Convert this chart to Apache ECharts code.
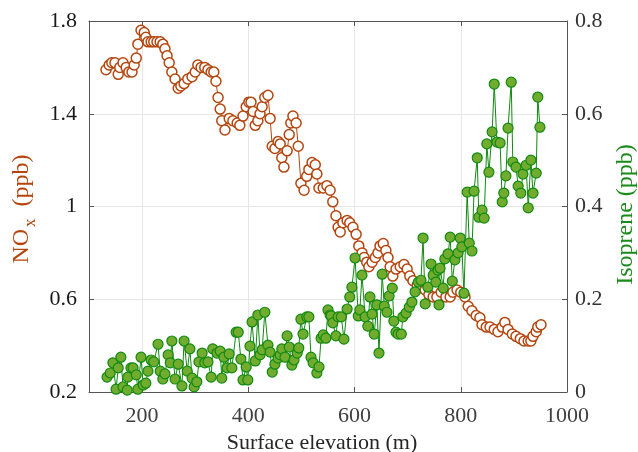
<!DOCTYPE html>
<html>
<head>
<meta charset="utf-8">
<script src="https://cdn.jsdelivr.net/npm/echarts@6/dist/echarts.min.js"></script>
<style>
  html, body { margin: 0; padding: 0; background: #fff; }
  #chart { width: 638px; height: 452px; }
</style>
</head>
<body>
<div id="chart"></div>
<script>
// NOx trace (surface elevation in m, mixing ratio in ppb)
const noxElev = [132,138,143,149,155,158,164,170,175,181,185,189,192,198,204,207,211,217,222,228,
  234,239,243,247,251,256,262,268,273,279,286,294,300,305,311,318,324,330,335,339,
  343,347,350,356,364,371,379,384,390,396,401,405,409,413,418,422,426,431,437,441,
  445,450,456,460,463,467,473,477,480,484,490,494,499,505,510,514,520,526,529,533,
  541,548,554,559,565,569,573,578,586,591,597,603,608,614,618,623,627,633,639,644,
  648,654,659,663,667,672,678,686,693,699,704,710,718,725,733,740,748,755,763,772,
  780,785,793,800,808,814,821,829,836,840,848,855,863,870,878,883,889,897,904,912,
  919,927,932,936,942,945,951];
const noxVal = [1.59,1.61,1.62,1.62,1.57,1.60,1.62,1.60,1.58,1.58,1.61,1.64,1.70,1.76,1.75,1.73,1.71,1.71,1.71,1.71,
  1.71,1.70,1.68,1.65,1.62,1.58,1.55,1.51,1.52,1.53,1.55,1.56,1.58,1.61,1.60,1.60,1.59,1.58,1.58,1.54,
  1.47,1.42,1.37,1.33,1.38,1.37,1.36,1.35,1.39,1.43,1.45,1.45,1.41,1.35,1.37,1.40,1.43,1.47,1.48,1.38,
  1.26,1.25,1.28,1.27,1.21,1.17,1.24,1.31,1.36,1.39,1.36,1.26,1.10,1.07,1.13,1.16,1.19,1.18,1.14,1.08,
  1.08,1.09,1.07,1.02,0.96,0.91,0.89,0.93,0.94,0.93,0.91,0.88,0.83,0.80,0.78,0.76,0.74,0.76,0.78,0.80,
  0.83,0.84,0.81,0.78,0.74,0.70,0.73,0.74,0.75,0.73,0.70,0.68,0.66,0.65,0.64,0.62,0.61,0.61,0.63,0.61,
  0.61,0.63,0.64,0.63,0.61,0.57,0.55,0.53,0.52,0.49,0.48,0.48,0.47,0.46,0.48,0.50,0.47,0.45,0.44,0.43,
  0.42,0.42,0.42,0.44,0.46,0.48,0.49];

// isoprene trace
const isoElev = [134,140,145,151,155,160,164,172,173,179,183,189,192,198,202,207,211,217,222,230,
  234,239,243,249,253,256,262,268,275,279,285,290,294,298,303,307,313,318,324,330,333,341,
  347,350,354,360,364,369,377,381,386,390,396,399,403,407,413,418,422,426,431,437,
  441,445,450,456,460,463,469,473,477,482,486,492,495,499,503,510,514,518,522,529,533,537,541,546,550,554,
  556,559,565,569,575,580,586,591,595,601,607,610,614,620,625,629,633,637,642,646,
  652,656,661,665,671,674,678,682,688,691,697,703,708,714,720,725,729,733,738,744,748,753,757,759,
  761,767,770,776,780,784,789,795,799,802,806,812,816,821,825,831,834,840,844,849,
  853,859,863,868,874,878,881,885,889,895,898,904,908,913,917,923,927,932,936,942,945,949];
const isoVal = [0.032,0.041,0.063,0.006,0.052,0.075,0.011,0.004,0.032,0.052,0.052,0.037,0.006,0.075,0.015,0.019,0.045,0.069,0.065,0.103,
  0.045,0.028,0.039,0.080,0.063,0.110,0.028,0.060,0.013,0.110,0.045,0.093,0.030,0.011,0.022,0.065,0.084,0.063,0.065,0.032,0.093,0.084,
  0.088,0.030,0.075,0.052,0.082,0.052,0.129,0.129,0.071,0.026,0.054,0.026,0.099,0.151,0.067,0.166,0.080,0.091,0.172,0.101,
  0.086,0.043,0.060,0.073,0.080,0.093,0.075,0.121,0.097,0.058,0.069,0.084,0.095,0.157,0.125,0.162,0.162,0.075,0.063,0.041,0.054,0.116,0.123,0.116,0.177,0.166,
  0.164,0.149,0.121,0.162,0.162,0.114,0.179,0.205,0.226,0.289,0.164,0.177,0.252,0.162,0.142,0.205,0.168,0.125,0.188,0.084,
  0.254,0.185,0.172,0.207,0.224,0.153,0.129,0.125,0.125,0.162,0.170,0.183,0.194,0.216,0.237,0.241,0.332,0.190,0.226,0.276,0.252,0.237,0.263,0.188,
  0.267,0.224,0.287,0.298,0.334,0.239,0.285,0.300,0.332,0.313,0.213,0.431,0.321,0.304,0.433,0.505,0.377,0.392,0.375,0.535,
  0.474,0.561,0.664,0.539,0.537,0.410,0.429,0.466,0.569,0.668,0.496,0.485,0.444,0.429,0.470,0.489,0.397,0.500,0.429,0.472,0.636,0.571];

const xTicks = [200, 400, 600, 800, 1000];

const noxColor = '#b4450e';
const isoLine = '#108a10';
const isoFill = '#72ac2e';
const font = 'Liberation Serif';

const trim = v => String(parseFloat(v.toFixed(1)));

const chart = echarts.init(document.getElementById('chart'), null, { renderer: 'canvas' });

const option = {
  backgroundColor: '#fff',
  animation: false,
  textStyle: { fontFamily: font },
  grid: { left: 89, right: 71, top: 21, bottom: 60, containLabel: false, outerBoundsMode: 'none' },
  xAxis: [
    {
      type: 'value', min: 100, max: 1000,
      name: 'Surface elevation (m)', nameLocation: 'middle', nameGap: 37,
      nameTextStyle: { fontFamily: font, fontSize: 22, color: '#262626', padding: [0, 12, 0, 0] },
      axisLine: { show: true, lineStyle: { color: '#555', width: 1 } },
      axisTick: { show: true, inside: true, length: 5, customValues: xTicks, lineStyle: { color: '#555' } },
      axisLabel: { customValues: xTicks, formatter: v => String(v), fontFamily: font, fontSize: 22, color: '#404040', margin: 13 },
      splitLine: { show: true, lineStyle: { color: '#e6e6e6', width: 1 } }
    },
    {
      type: 'value', min: 100, max: 1000, position: 'top',
      axisLine: { show: true, lineStyle: { color: '#555', width: 1 } },
      axisTick: { show: true, inside: true, length: 5, customValues: xTicks, lineStyle: { color: '#555' } },
      axisLabel: { show: false },
      splitLine: { show: false }
    }
  ],
  yAxis: [
    {
      type: 'value', min: 0.2, max: 1.8, interval: 0.4, position: 'left',
      name: '{n|NO}{s|x}{n|  (ppb)}', nameLocation: 'middle', nameGap: 50, nameRotate: 90,
      nameTextStyle: {
        padding: [0, 5, 0, 0],
        rich: {
          n: { fontFamily: font, fontSize: 24, color: noxColor },
          s: { fontFamily: font, fontSize: 17, color: noxColor, padding: [16, 0, 0, 2] }
        }
      },
      axisLine: { show: true, lineStyle: { color: '#555', width: 1 } },
      axisTick: { show: true, inside: true, length: 5, lineStyle: { color: '#555' } },
      axisLabel: { formatter: trim, fontFamily: font, fontSize: 22, color: '#1a1a1a', margin: 12 },
      splitLine: { show: true, lineStyle: { color: '#e6e6e6', width: 1 } }
    },
    {
      type: 'value', min: 0, max: 0.8, interval: 0.2, position: 'right',
      name: 'Isoprene (ppb)', nameLocation: 'middle', nameGap: 45, nameRotate: 90,
      nameTextStyle: { fontFamily: font, fontSize: 24, color: '#1a8a1a', padding: [0, 16, 0, 0] },
      axisLine: { show: true, lineStyle: { color: '#555', width: 1 } },
      axisTick: { show: true, inside: true, length: 5, lineStyle: { color: '#555' } },
      axisLabel: { formatter: trim, fontFamily: font, fontSize: 22, color: '#333', margin: 8 },
      splitLine: { show: false }
    }
  ],
  series: [
    {
      name: 'NOx', type: 'line', xAxisIndex: 0, yAxisIndex: 0,
      data: noxElev.map((x, i) => [x, noxVal[i]]),
      symbol: 'circle', symbolSize: 10, showAllSymbol: true,
      lineStyle: { color: noxColor, width: 1 },
      itemStyle: { color: '#fff', borderColor: noxColor, borderWidth: 1.5 }
    },
    {
      name: 'Isoprene', type: 'line', xAxisIndex: 0, yAxisIndex: 1,
      data: isoElev.map((x, i) => [x, isoVal[i]]),
      symbol: 'circle', symbolSize: 10, showAllSymbol: true,
      lineStyle: { color: isoLine, width: 1 },
      itemStyle: { color: isoFill, borderColor: isoLine, borderWidth: 1.2 }
    }
  ]
};

chart.setOption(option);
</script>
</body>
</html>
